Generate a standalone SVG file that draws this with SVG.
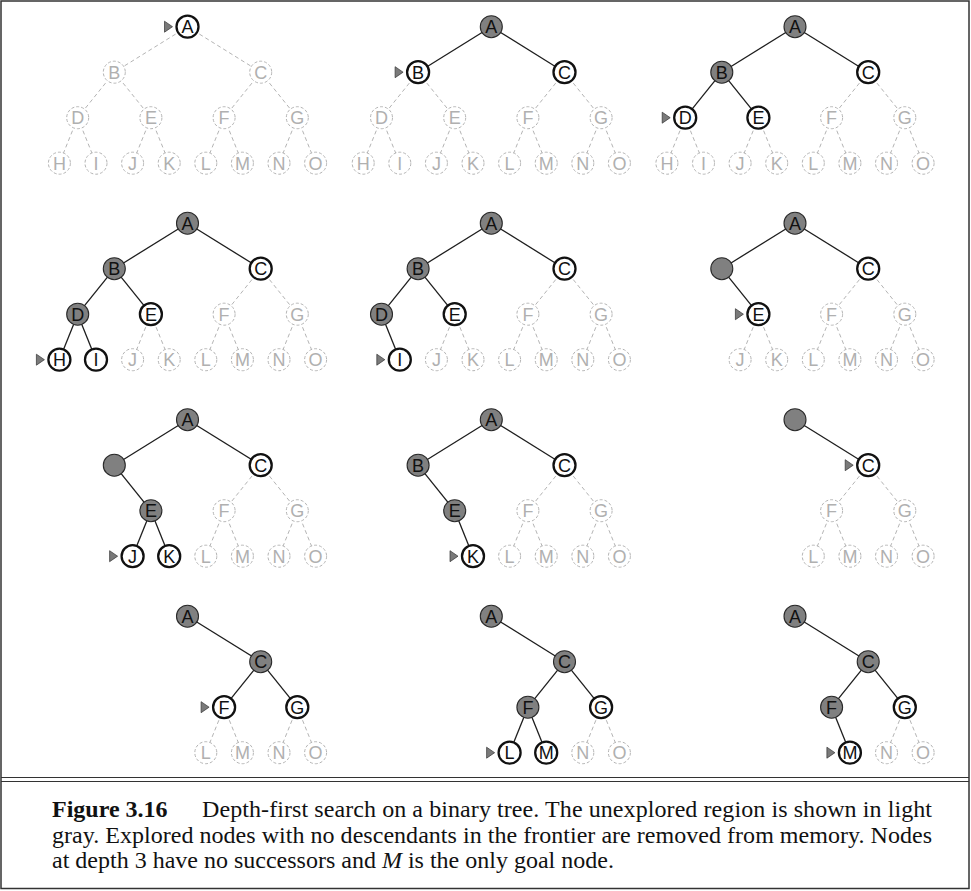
<svg xmlns="http://www.w3.org/2000/svg" width="971" height="891" viewBox="0 0 971 891">
<style>
.nd text{font-family:"Liberation Sans",Arial,sans-serif;font-size:18px;text-anchor:middle}
.u circle{fill:#fff;stroke:#b4b4b4;stroke-width:1;stroke-dasharray:3 2}
.u text{fill:#b0b0b0}
.f circle{fill:#fff;stroke:#111;stroke-width:2.3}
.f text,.x text{fill:#111}
.x circle{fill:#808080;stroke:#2a2a2a;stroke-width:1.1}
.s{stroke:#1e1e1e;stroke-width:1.3}
.d{stroke:#b4b4b4;stroke-width:1;stroke-dasharray:4 3}
.arr{fill:#7a7a7a;stroke:#333;stroke-width:0.7}
.cap{font-family:"Liberation Serif","Times New Roman",serif;font-size:24px;fill:#111}
.frame{fill:none;stroke:#333;stroke-width:1.5}
</style>
<rect x="0" y="0" width="971" height="891" fill="#fff"/>
<rect class="frame" x="1" y="1" width="968" height="887.5"/>
<line x1="1" y1="777.5" x2="969" y2="777.5" stroke="#333" stroke-width="1.2"/>
<line x1="1" y1="781.5" x2="969" y2="781.5" stroke="#333" stroke-width="1.2"/>

<g id="connectors">
<g id="c1" transform="translate(187.5,26.7)">
<line class="d" x1="0" y1="0" x2="-73.2" y2="45.5"/><line class="d" x1="0" y1="0" x2="73.2" y2="45.5"/>
<line class="d" x1="-73.2" y1="45.5" x2="-109.8" y2="91"/><line class="d" x1="-73.2" y1="45.5" x2="-36.6" y2="91"/>
<line class="d" x1="73.2" y1="45.5" x2="36.6" y2="91"/><line class="d" x1="73.2" y1="45.5" x2="109.8" y2="91"/>
<line class="d" x1="-109.8" y1="91" x2="-128.1" y2="136.5"/><line class="d" x1="-109.8" y1="91" x2="-91.5" y2="136.5"/>
<line class="d" x1="-36.6" y1="91" x2="-54.9" y2="136.5"/><line class="d" x1="-36.6" y1="91" x2="-18.3" y2="136.5"/>
<line class="d" x1="36.6" y1="91" x2="18.3" y2="136.5"/><line class="d" x1="36.6" y1="91" x2="54.9" y2="136.5"/>
<line class="d" x1="109.8" y1="91" x2="91.5" y2="136.5"/><line class="d" x1="109.8" y1="91" x2="128.1" y2="136.5"/>
</g>
<g id="c2" transform="translate(491.3,26.7)">
<line class="s" x1="0" y1="0" x2="-73.2" y2="45.5"/><line class="s" x1="0" y1="0" x2="73.2" y2="45.5"/>
<line class="d" x1="-73.2" y1="45.5" x2="-109.8" y2="91"/><line class="d" x1="-73.2" y1="45.5" x2="-36.6" y2="91"/>
<line class="d" x1="73.2" y1="45.5" x2="36.6" y2="91"/><line class="d" x1="73.2" y1="45.5" x2="109.8" y2="91"/>
<line class="d" x1="-109.8" y1="91" x2="-128.1" y2="136.5"/><line class="d" x1="-109.8" y1="91" x2="-91.5" y2="136.5"/>
<line class="d" x1="-36.6" y1="91" x2="-54.9" y2="136.5"/><line class="d" x1="-36.6" y1="91" x2="-18.3" y2="136.5"/>
<line class="d" x1="36.6" y1="91" x2="18.3" y2="136.5"/><line class="d" x1="36.6" y1="91" x2="54.9" y2="136.5"/>
<line class="d" x1="109.8" y1="91" x2="91.5" y2="136.5"/><line class="d" x1="109.8" y1="91" x2="128.1" y2="136.5"/>
</g>
<g id="c3" transform="translate(795,26.7)">
<line class="s" x1="0" y1="0" x2="-73.2" y2="45.5"/><line class="s" x1="0" y1="0" x2="73.2" y2="45.5"/>
<line class="s" x1="-73.2" y1="45.5" x2="-109.8" y2="91"/><line class="s" x1="-73.2" y1="45.5" x2="-36.6" y2="91"/>
<line class="d" x1="73.2" y1="45.5" x2="36.6" y2="91"/><line class="d" x1="73.2" y1="45.5" x2="109.8" y2="91"/>
<line class="d" x1="-109.8" y1="91" x2="-128.1" y2="136.5"/><line class="d" x1="-109.8" y1="91" x2="-91.5" y2="136.5"/>
<line class="d" x1="-36.6" y1="91" x2="-54.9" y2="136.5"/><line class="d" x1="-36.6" y1="91" x2="-18.3" y2="136.5"/>
<line class="d" x1="36.6" y1="91" x2="18.3" y2="136.5"/><line class="d" x1="36.6" y1="91" x2="54.9" y2="136.5"/>
<line class="d" x1="109.8" y1="91" x2="91.5" y2="136.5"/><line class="d" x1="109.8" y1="91" x2="128.1" y2="136.5"/>
</g>
<g id="c4" transform="translate(187.5,223.2)">
<line class="s" x1="0" y1="0" x2="-73.2" y2="45.5"/><line class="s" x1="0" y1="0" x2="73.2" y2="45.5"/>
<line class="s" x1="-73.2" y1="45.5" x2="-109.8" y2="91"/><line class="s" x1="-73.2" y1="45.5" x2="-36.6" y2="91"/>
<line class="d" x1="73.2" y1="45.5" x2="36.6" y2="91"/><line class="d" x1="73.2" y1="45.5" x2="109.8" y2="91"/>
<line class="s" x1="-109.8" y1="91" x2="-128.1" y2="136.5"/><line class="s" x1="-109.8" y1="91" x2="-91.5" y2="136.5"/>
<line class="d" x1="-36.6" y1="91" x2="-54.9" y2="136.5"/><line class="d" x1="-36.6" y1="91" x2="-18.3" y2="136.5"/>
<line class="d" x1="36.6" y1="91" x2="18.3" y2="136.5"/><line class="d" x1="36.6" y1="91" x2="54.9" y2="136.5"/>
<line class="d" x1="109.8" y1="91" x2="91.5" y2="136.5"/><line class="d" x1="109.8" y1="91" x2="128.1" y2="136.5"/>
</g>
<g id="c5" transform="translate(491.3,223.2)">
<line class="s" x1="0" y1="0" x2="-73.2" y2="45.5"/><line class="s" x1="0" y1="0" x2="73.2" y2="45.5"/>
<line class="s" x1="-73.2" y1="45.5" x2="-109.8" y2="91"/><line class="s" x1="-73.2" y1="45.5" x2="-36.6" y2="91"/>
<line class="d" x1="73.2" y1="45.5" x2="36.6" y2="91"/><line class="d" x1="73.2" y1="45.5" x2="109.8" y2="91"/>
<line class="s" x1="-109.8" y1="91" x2="-91.5" y2="136.5"/>
<line class="d" x1="-36.6" y1="91" x2="-54.9" y2="136.5"/><line class="d" x1="-36.6" y1="91" x2="-18.3" y2="136.5"/>
<line class="d" x1="36.6" y1="91" x2="18.3" y2="136.5"/><line class="d" x1="36.6" y1="91" x2="54.9" y2="136.5"/>
<line class="d" x1="109.8" y1="91" x2="91.5" y2="136.5"/><line class="d" x1="109.8" y1="91" x2="128.1" y2="136.5"/>
</g>
<g id="c6" transform="translate(795,223.2)">
<line class="s" x1="0" y1="0" x2="-73.2" y2="45.5"/><line class="s" x1="0" y1="0" x2="73.2" y2="45.5"/>
<line class="s" x1="-73.2" y1="45.5" x2="-36.6" y2="91"/>
<line class="d" x1="73.2" y1="45.5" x2="36.6" y2="91"/><line class="d" x1="73.2" y1="45.5" x2="109.8" y2="91"/>
<line class="d" x1="-36.6" y1="91" x2="-54.9" y2="136.5"/><line class="d" x1="-36.6" y1="91" x2="-18.3" y2="136.5"/>
<line class="d" x1="36.6" y1="91" x2="18.3" y2="136.5"/><line class="d" x1="36.6" y1="91" x2="54.9" y2="136.5"/>
<line class="d" x1="109.8" y1="91" x2="91.5" y2="136.5"/><line class="d" x1="109.8" y1="91" x2="128.1" y2="136.5"/>
</g>
<g id="c7" transform="translate(187.5,419.7)">
<line class="s" x1="0" y1="0" x2="-73.2" y2="45.5"/><line class="s" x1="0" y1="0" x2="73.2" y2="45.5"/>
<line class="s" x1="-73.2" y1="45.5" x2="-36.6" y2="91"/>
<line class="d" x1="73.2" y1="45.5" x2="36.6" y2="91"/><line class="d" x1="73.2" y1="45.5" x2="109.8" y2="91"/>
<line class="s" x1="-36.6" y1="91" x2="-54.9" y2="136.5"/><line class="s" x1="-36.6" y1="91" x2="-18.3" y2="136.5"/>
<line class="d" x1="36.6" y1="91" x2="18.3" y2="136.5"/><line class="d" x1="36.6" y1="91" x2="54.9" y2="136.5"/>
<line class="d" x1="109.8" y1="91" x2="91.5" y2="136.5"/><line class="d" x1="109.8" y1="91" x2="128.1" y2="136.5"/>
</g>
<g id="c8" transform="translate(491.3,419.7)">
<line class="s" x1="0" y1="0" x2="-73.2" y2="45.5"/><line class="s" x1="0" y1="0" x2="73.2" y2="45.5"/>
<line class="s" x1="-73.2" y1="45.5" x2="-36.6" y2="91"/>
<line class="d" x1="73.2" y1="45.5" x2="36.6" y2="91"/><line class="d" x1="73.2" y1="45.5" x2="109.8" y2="91"/>
<line class="s" x1="-36.6" y1="91" x2="-18.3" y2="136.5"/>
<line class="d" x1="36.6" y1="91" x2="18.3" y2="136.5"/><line class="d" x1="36.6" y1="91" x2="54.9" y2="136.5"/>
<line class="d" x1="109.8" y1="91" x2="91.5" y2="136.5"/><line class="d" x1="109.8" y1="91" x2="128.1" y2="136.5"/>
</g>
<g id="c9" transform="translate(795,419.7)">
<line class="s" x1="0" y1="0" x2="73.2" y2="45.5"/>
<line class="d" x1="73.2" y1="45.5" x2="36.6" y2="91"/><line class="d" x1="73.2" y1="45.5" x2="109.8" y2="91"/>
<line class="d" x1="36.6" y1="91" x2="18.3" y2="136.5"/><line class="d" x1="36.6" y1="91" x2="54.9" y2="136.5"/>
<line class="d" x1="109.8" y1="91" x2="91.5" y2="136.5"/><line class="d" x1="109.8" y1="91" x2="128.1" y2="136.5"/>
</g>
<g id="c10" transform="translate(187.5,616.2)">
<line class="s" x1="0" y1="0" x2="73.2" y2="45.5"/>
<line class="s" x1="73.2" y1="45.5" x2="36.6" y2="91"/><line class="s" x1="73.2" y1="45.5" x2="109.8" y2="91"/>
<line class="d" x1="36.6" y1="91" x2="18.3" y2="136.5"/><line class="d" x1="36.6" y1="91" x2="54.9" y2="136.5"/>
<line class="d" x1="109.8" y1="91" x2="91.5" y2="136.5"/><line class="d" x1="109.8" y1="91" x2="128.1" y2="136.5"/>
</g>
<g id="c11" transform="translate(491.3,616.2)">
<line class="s" x1="0" y1="0" x2="73.2" y2="45.5"/>
<line class="s" x1="73.2" y1="45.5" x2="36.6" y2="91"/><line class="s" x1="73.2" y1="45.5" x2="109.8" y2="91"/>
<line class="s" x1="36.6" y1="91" x2="18.3" y2="136.5"/><line class="s" x1="36.6" y1="91" x2="54.9" y2="136.5"/>
<line class="d" x1="109.8" y1="91" x2="91.5" y2="136.5"/><line class="d" x1="109.8" y1="91" x2="128.1" y2="136.5"/>
</g>
<g id="c12" transform="translate(795,616.2)">
<line class="s" x1="0" y1="0" x2="73.2" y2="45.5"/>
<line class="s" x1="73.2" y1="45.5" x2="36.6" y2="91"/><line class="s" x1="73.2" y1="45.5" x2="109.8" y2="91"/>
<line class="s" x1="36.6" y1="91" x2="54.9" y2="136.5"/>
<line class="d" x1="109.8" y1="91" x2="91.5" y2="136.5"/><line class="d" x1="109.8" y1="91" x2="128.1" y2="136.5"/>
</g>
</g>

<g id="nodes" class="nd">
<g id="panel1" transform="translate(187.5,26.7)">
<g id="p1-A" class="f"><path class="arr" d="M-23,-5.5L-15,0L-23,5.5Z"/><circle r="11"/><text y="6.4">A</text></g>
<g id="p1-B" class="u" transform="translate(-73.2,45.5)"><circle r="11"/><text y="6.4">B</text></g>
<g id="p1-C" class="u" transform="translate(73.2,45.5)"><circle r="11"/><text y="6.4">C</text></g>
<g id="p1-D" class="u" transform="translate(-109.8,91)"><circle r="11"/><text y="6.4">D</text></g>
<g id="p1-E" class="u" transform="translate(-36.6,91)"><circle r="11"/><text y="6.4">E</text></g>
<g id="p1-F" class="u" transform="translate(36.6,91)"><circle r="11"/><text y="6.4">F</text></g>
<g id="p1-G" class="u" transform="translate(109.8,91)"><circle r="11"/><text y="6.4">G</text></g>
<g id="p1-H" class="u" transform="translate(-128.1,136.5)"><circle r="11"/><text y="6.4">H</text></g>
<g id="p1-I" class="u" transform="translate(-91.5,136.5)"><circle r="11"/><text y="6.4">I</text></g>
<g id="p1-J" class="u" transform="translate(-54.9,136.5)"><circle r="11"/><text y="6.4">J</text></g>
<g id="p1-K" class="u" transform="translate(-18.3,136.5)"><circle r="11"/><text y="6.4">K</text></g>
<g id="p1-L" class="u" transform="translate(18.3,136.5)"><circle r="11"/><text y="6.4">L</text></g>
<g id="p1-M" class="u" transform="translate(54.9,136.5)"><circle r="11"/><text y="6.4">M</text></g>
<g id="p1-N" class="u" transform="translate(91.5,136.5)"><circle r="11"/><text y="6.4">N</text></g>
<g id="p1-O" class="u" transform="translate(128.1,136.5)"><circle r="11"/><text y="6.4">O</text></g>
</g>
<g id="panel2" transform="translate(491.3,26.7)">
<g id="p2-A" class="x"><circle r="11"/><text y="6.4">A</text></g>
<g id="p2-B" class="f" transform="translate(-73.2,45.5)"><path class="arr" d="M-23,-5.5L-15,0L-23,5.5Z"/><circle r="11"/><text y="6.4">B</text></g>
<g id="p2-C" class="f" transform="translate(73.2,45.5)"><circle r="11"/><text y="6.4">C</text></g>
<g id="p2-D" class="u" transform="translate(-109.8,91)"><circle r="11"/><text y="6.4">D</text></g>
<g id="p2-E" class="u" transform="translate(-36.6,91)"><circle r="11"/><text y="6.4">E</text></g>
<g id="p2-F" class="u" transform="translate(36.6,91)"><circle r="11"/><text y="6.4">F</text></g>
<g id="p2-G" class="u" transform="translate(109.8,91)"><circle r="11"/><text y="6.4">G</text></g>
<g id="p2-H" class="u" transform="translate(-128.1,136.5)"><circle r="11"/><text y="6.4">H</text></g>
<g id="p2-I" class="u" transform="translate(-91.5,136.5)"><circle r="11"/><text y="6.4">I</text></g>
<g id="p2-J" class="u" transform="translate(-54.9,136.5)"><circle r="11"/><text y="6.4">J</text></g>
<g id="p2-K" class="u" transform="translate(-18.3,136.5)"><circle r="11"/><text y="6.4">K</text></g>
<g id="p2-L" class="u" transform="translate(18.3,136.5)"><circle r="11"/><text y="6.4">L</text></g>
<g id="p2-M" class="u" transform="translate(54.9,136.5)"><circle r="11"/><text y="6.4">M</text></g>
<g id="p2-N" class="u" transform="translate(91.5,136.5)"><circle r="11"/><text y="6.4">N</text></g>
<g id="p2-O" class="u" transform="translate(128.1,136.5)"><circle r="11"/><text y="6.4">O</text></g>
</g>
<g id="panel3" transform="translate(795,26.7)">
<g id="p3-A" class="x"><circle r="11"/><text y="6.4">A</text></g>
<g id="p3-B" class="x" transform="translate(-73.2,45.5)"><circle r="11"/><text y="6.4">B</text></g>
<g id="p3-C" class="f" transform="translate(73.2,45.5)"><circle r="11"/><text y="6.4">C</text></g>
<g id="p3-D" class="f" transform="translate(-109.8,91)"><path class="arr" d="M-23,-5.5L-15,0L-23,5.5Z"/><circle r="11"/><text y="6.4">D</text></g>
<g id="p3-E" class="f" transform="translate(-36.6,91)"><circle r="11"/><text y="6.4">E</text></g>
<g id="p3-F" class="u" transform="translate(36.6,91)"><circle r="11"/><text y="6.4">F</text></g>
<g id="p3-G" class="u" transform="translate(109.8,91)"><circle r="11"/><text y="6.4">G</text></g>
<g id="p3-H" class="u" transform="translate(-128.1,136.5)"><circle r="11"/><text y="6.4">H</text></g>
<g id="p3-I" class="u" transform="translate(-91.5,136.5)"><circle r="11"/><text y="6.4">I</text></g>
<g id="p3-J" class="u" transform="translate(-54.9,136.5)"><circle r="11"/><text y="6.4">J</text></g>
<g id="p3-K" class="u" transform="translate(-18.3,136.5)"><circle r="11"/><text y="6.4">K</text></g>
<g id="p3-L" class="u" transform="translate(18.3,136.5)"><circle r="11"/><text y="6.4">L</text></g>
<g id="p3-M" class="u" transform="translate(54.9,136.5)"><circle r="11"/><text y="6.4">M</text></g>
<g id="p3-N" class="u" transform="translate(91.5,136.5)"><circle r="11"/><text y="6.4">N</text></g>
<g id="p3-O" class="u" transform="translate(128.1,136.5)"><circle r="11"/><text y="6.4">O</text></g>
</g>
<g id="panel4" transform="translate(187.5,223.2)">
<g id="p4-A" class="x"><circle r="11"/><text y="6.4">A</text></g>
<g id="p4-B" class="x" transform="translate(-73.2,45.5)"><circle r="11"/><text y="6.4">B</text></g>
<g id="p4-C" class="f" transform="translate(73.2,45.5)"><circle r="11"/><text y="6.4">C</text></g>
<g id="p4-D" class="x" transform="translate(-109.8,91)"><circle r="11"/><text y="6.4">D</text></g>
<g id="p4-E" class="f" transform="translate(-36.6,91)"><circle r="11"/><text y="6.4">E</text></g>
<g id="p4-F" class="u" transform="translate(36.6,91)"><circle r="11"/><text y="6.4">F</text></g>
<g id="p4-G" class="u" transform="translate(109.8,91)"><circle r="11"/><text y="6.4">G</text></g>
<g id="p4-H" class="f" transform="translate(-128.1,136.5)"><path class="arr" d="M-23,-5.5L-15,0L-23,5.5Z"/><circle r="11"/><text y="6.4">H</text></g>
<g id="p4-I" class="f" transform="translate(-91.5,136.5)"><circle r="11"/><text y="6.4">I</text></g>
<g id="p4-J" class="u" transform="translate(-54.9,136.5)"><circle r="11"/><text y="6.4">J</text></g>
<g id="p4-K" class="u" transform="translate(-18.3,136.5)"><circle r="11"/><text y="6.4">K</text></g>
<g id="p4-L" class="u" transform="translate(18.3,136.5)"><circle r="11"/><text y="6.4">L</text></g>
<g id="p4-M" class="u" transform="translate(54.9,136.5)"><circle r="11"/><text y="6.4">M</text></g>
<g id="p4-N" class="u" transform="translate(91.5,136.5)"><circle r="11"/><text y="6.4">N</text></g>
<g id="p4-O" class="u" transform="translate(128.1,136.5)"><circle r="11"/><text y="6.4">O</text></g>
</g>
<g id="panel5" transform="translate(491.3,223.2)">
<g id="p5-A" class="x"><circle r="11"/><text y="6.4">A</text></g>
<g id="p5-B" class="x" transform="translate(-73.2,45.5)"><circle r="11"/><text y="6.4">B</text></g>
<g id="p5-C" class="f" transform="translate(73.2,45.5)"><circle r="11"/><text y="6.4">C</text></g>
<g id="p5-D" class="x" transform="translate(-109.8,91)"><circle r="11"/><text y="6.4">D</text></g>
<g id="p5-E" class="f" transform="translate(-36.6,91)"><circle r="11"/><text y="6.4">E</text></g>
<g id="p5-F" class="u" transform="translate(36.6,91)"><circle r="11"/><text y="6.4">F</text></g>
<g id="p5-G" class="u" transform="translate(109.8,91)"><circle r="11"/><text y="6.4">G</text></g>
<g id="p5-I" class="f" transform="translate(-91.5,136.5)"><path class="arr" d="M-23,-5.5L-15,0L-23,5.5Z"/><circle r="11"/><text y="6.4">I</text></g>
<g id="p5-J" class="u" transform="translate(-54.9,136.5)"><circle r="11"/><text y="6.4">J</text></g>
<g id="p5-K" class="u" transform="translate(-18.3,136.5)"><circle r="11"/><text y="6.4">K</text></g>
<g id="p5-L" class="u" transform="translate(18.3,136.5)"><circle r="11"/><text y="6.4">L</text></g>
<g id="p5-M" class="u" transform="translate(54.9,136.5)"><circle r="11"/><text y="6.4">M</text></g>
<g id="p5-N" class="u" transform="translate(91.5,136.5)"><circle r="11"/><text y="6.4">N</text></g>
<g id="p5-O" class="u" transform="translate(128.1,136.5)"><circle r="11"/><text y="6.4">O</text></g>
</g>
<g id="panel6" transform="translate(795,223.2)">
<g id="p6-A" class="x"><circle r="11"/><text y="6.4">A</text></g>
<g id="p6-B" class="x" transform="translate(-73.2,45.5)"><circle r="11"/></g>
<g id="p6-C" class="f" transform="translate(73.2,45.5)"><circle r="11"/><text y="6.4">C</text></g>
<g id="p6-E" class="f" transform="translate(-36.6,91)"><path class="arr" d="M-23,-5.5L-15,0L-23,5.5Z"/><circle r="11"/><text y="6.4">E</text></g>
<g id="p6-F" class="u" transform="translate(36.6,91)"><circle r="11"/><text y="6.4">F</text></g>
<g id="p6-G" class="u" transform="translate(109.8,91)"><circle r="11"/><text y="6.4">G</text></g>
<g id="p6-J" class="u" transform="translate(-54.9,136.5)"><circle r="11"/><text y="6.4">J</text></g>
<g id="p6-K" class="u" transform="translate(-18.3,136.5)"><circle r="11"/><text y="6.4">K</text></g>
<g id="p6-L" class="u" transform="translate(18.3,136.5)"><circle r="11"/><text y="6.4">L</text></g>
<g id="p6-M" class="u" transform="translate(54.9,136.5)"><circle r="11"/><text y="6.4">M</text></g>
<g id="p6-N" class="u" transform="translate(91.5,136.5)"><circle r="11"/><text y="6.4">N</text></g>
<g id="p6-O" class="u" transform="translate(128.1,136.5)"><circle r="11"/><text y="6.4">O</text></g>
</g>
<g id="panel7" transform="translate(187.5,419.7)">
<g id="p7-A" class="x"><circle r="11"/><text y="6.4">A</text></g>
<g id="p7-B" class="x" transform="translate(-73.2,45.5)"><circle r="11"/></g>
<g id="p7-C" class="f" transform="translate(73.2,45.5)"><circle r="11"/><text y="6.4">C</text></g>
<g id="p7-E" class="x" transform="translate(-36.6,91)"><circle r="11"/><text y="6.4">E</text></g>
<g id="p7-F" class="u" transform="translate(36.6,91)"><circle r="11"/><text y="6.4">F</text></g>
<g id="p7-G" class="u" transform="translate(109.8,91)"><circle r="11"/><text y="6.4">G</text></g>
<g id="p7-J" class="f" transform="translate(-54.9,136.5)"><path class="arr" d="M-23,-5.5L-15,0L-23,5.5Z"/><circle r="11"/><text y="6.4">J</text></g>
<g id="p7-K" class="f" transform="translate(-18.3,136.5)"><circle r="11"/><text y="6.4">K</text></g>
<g id="p7-L" class="u" transform="translate(18.3,136.5)"><circle r="11"/><text y="6.4">L</text></g>
<g id="p7-M" class="u" transform="translate(54.9,136.5)"><circle r="11"/><text y="6.4">M</text></g>
<g id="p7-N" class="u" transform="translate(91.5,136.5)"><circle r="11"/><text y="6.4">N</text></g>
<g id="p7-O" class="u" transform="translate(128.1,136.5)"><circle r="11"/><text y="6.4">O</text></g>
</g>
<g id="panel8" transform="translate(491.3,419.7)">
<g id="p8-A" class="x"><circle r="11"/><text y="6.4">A</text></g>
<g id="p8-B" class="x" transform="translate(-73.2,45.5)"><circle r="11"/><text y="6.4">B</text></g>
<g id="p8-C" class="f" transform="translate(73.2,45.5)"><circle r="11"/><text y="6.4">C</text></g>
<g id="p8-E" class="x" transform="translate(-36.6,91)"><circle r="11"/><text y="6.4">E</text></g>
<g id="p8-F" class="u" transform="translate(36.6,91)"><circle r="11"/><text y="6.4">F</text></g>
<g id="p8-G" class="u" transform="translate(109.8,91)"><circle r="11"/><text y="6.4">G</text></g>
<g id="p8-K" class="f" transform="translate(-18.3,136.5)"><path class="arr" d="M-23,-5.5L-15,0L-23,5.5Z"/><circle r="11"/><text y="6.4">K</text></g>
<g id="p8-L" class="u" transform="translate(18.3,136.5)"><circle r="11"/><text y="6.4">L</text></g>
<g id="p8-M" class="u" transform="translate(54.9,136.5)"><circle r="11"/><text y="6.4">M</text></g>
<g id="p8-N" class="u" transform="translate(91.5,136.5)"><circle r="11"/><text y="6.4">N</text></g>
<g id="p8-O" class="u" transform="translate(128.1,136.5)"><circle r="11"/><text y="6.4">O</text></g>
</g>
<g id="panel9" transform="translate(795,419.7)">
<g id="p9-A" class="x"><circle r="11"/></g>
<g id="p9-C" class="f" transform="translate(73.2,45.5)"><path class="arr" d="M-23,-5.5L-15,0L-23,5.5Z"/><circle r="11"/><text y="6.4">C</text></g>
<g id="p9-F" class="u" transform="translate(36.6,91)"><circle r="11"/><text y="6.4">F</text></g>
<g id="p9-G" class="u" transform="translate(109.8,91)"><circle r="11"/><text y="6.4">G</text></g>
<g id="p9-L" class="u" transform="translate(18.3,136.5)"><circle r="11"/><text y="6.4">L</text></g>
<g id="p9-M" class="u" transform="translate(54.9,136.5)"><circle r="11"/><text y="6.4">M</text></g>
<g id="p9-N" class="u" transform="translate(91.5,136.5)"><circle r="11"/><text y="6.4">N</text></g>
<g id="p9-O" class="u" transform="translate(128.1,136.5)"><circle r="11"/><text y="6.4">O</text></g>
</g>
<g id="panel10" transform="translate(187.5,616.2)">
<g id="p10-A" class="x"><circle r="11"/><text y="6.4">A</text></g>
<g id="p10-C" class="x" transform="translate(73.2,45.5)"><circle r="11"/><text y="6.4">C</text></g>
<g id="p10-F" class="f" transform="translate(36.6,91)"><path class="arr" d="M-23,-5.5L-15,0L-23,5.5Z"/><circle r="11"/><text y="6.4">F</text></g>
<g id="p10-G" class="f" transform="translate(109.8,91)"><circle r="11"/><text y="6.4">G</text></g>
<g id="p10-L" class="u" transform="translate(18.3,136.5)"><circle r="11"/><text y="6.4">L</text></g>
<g id="p10-M" class="u" transform="translate(54.9,136.5)"><circle r="11"/><text y="6.4">M</text></g>
<g id="p10-N" class="u" transform="translate(91.5,136.5)"><circle r="11"/><text y="6.4">N</text></g>
<g id="p10-O" class="u" transform="translate(128.1,136.5)"><circle r="11"/><text y="6.4">O</text></g>
</g>
<g id="panel11" transform="translate(491.3,616.2)">
<g id="p11-A" class="x"><circle r="11"/><text y="6.4">A</text></g>
<g id="p11-C" class="x" transform="translate(73.2,45.5)"><circle r="11"/><text y="6.4">C</text></g>
<g id="p11-F" class="x" transform="translate(36.6,91)"><circle r="11"/><text y="6.4">F</text></g>
<g id="p11-G" class="f" transform="translate(109.8,91)"><circle r="11"/><text y="6.4">G</text></g>
<g id="p11-L" class="f" transform="translate(18.3,136.5)"><path class="arr" d="M-23,-5.5L-15,0L-23,5.5Z"/><circle r="11"/><text y="6.4">L</text></g>
<g id="p11-M" class="f" transform="translate(54.9,136.5)"><circle r="11"/><text y="6.4">M</text></g>
<g id="p11-N" class="u" transform="translate(91.5,136.5)"><circle r="11"/><text y="6.4">N</text></g>
<g id="p11-O" class="u" transform="translate(128.1,136.5)"><circle r="11"/><text y="6.4">O</text></g>
</g>
<g id="panel12" transform="translate(795,616.2)">
<g id="p12-A" class="x"><circle r="11"/><text y="6.4">A</text></g>
<g id="p12-C" class="x" transform="translate(73.2,45.5)"><circle r="11"/><text y="6.4">C</text></g>
<g id="p12-F" class="x" transform="translate(36.6,91)"><circle r="11"/><text y="6.4">F</text></g>
<g id="p12-G" class="f" transform="translate(109.8,91)"><circle r="11"/><text y="6.4">G</text></g>
<g id="p12-M" class="f" transform="translate(54.9,136.5)"><path class="arr" d="M-23,-5.5L-15,0L-23,5.5Z"/><circle r="11"/><text y="6.4">M</text></g>
<g id="p12-N" class="u" transform="translate(91.5,136.5)"><circle r="11"/><text y="6.4">N</text></g>
<g id="p12-O" class="u" transform="translate(128.1,136.5)"><circle r="11"/><text y="6.4">O</text></g>
</g>
</g>

<g id="caption" class="cap">
<text x="52" y="817" font-weight="bold">Figure 3.16</text>
<text x="202" y="817" textLength="730" lengthAdjust="spacing">Depth-first search on a binary tree. The unexplored region is shown in light</text>
<text x="52" y="842.5" textLength="880" lengthAdjust="spacing">gray. Explored nodes with no descendants in the frontier are removed from memory. Nodes</text>
<text x="52" y="868">at depth 3 have no successors and <tspan font-style="italic">M</tspan> is the only goal node.</text>
</g>
</svg>
